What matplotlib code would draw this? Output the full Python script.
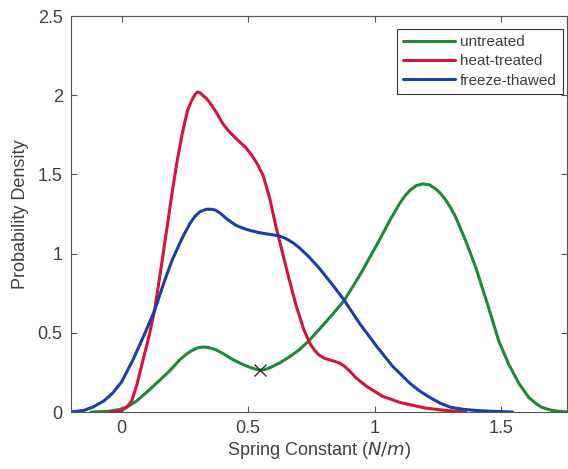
"""
Kernel density estimates of spring constant for three sample treatments.
Saves out.png (568x469).
"""

import matplotlib
matplotlib.use("Agg")
import matplotlib.pyplot as plt

plt.rcParams["font.family"] = ["Liberation Sans", "DejaVu Sans"]

# untreated (green)
untreated_x = [-0.12, -0.08, -0.05, -0.01, 0.02, 0.06, 0.11, 0.15, 0.19, 0.23,
               0.26, 0.28, 0.30, 0.32, 0.34, 0.37, 0.40, 0.44, 0.48, 0.51,
               0.53, 0.545, 0.56, 0.58, 0.60, 0.625, 0.66, 0.70, 0.74, 0.78,
               0.83, 0.88, 0.94, 1.01, 1.06, 1.10, 1.12, 1.14, 1.165, 1.19,
               1.215, 1.24, 1.26, 1.28, 1.30, 1.32, 1.36, 1.40, 1.45, 1.49,
               1.53, 1.57, 1.61, 1.64, 1.66, 1.70, 1.73, 1.76]
untreated_y = [0.0, 0.002, 0.005, 0.015, 0.03, 0.07, 0.14, 0.20, 0.26, 0.33,
               0.37, 0.39, 0.405, 0.41, 0.408, 0.395, 0.37, 0.33, 0.30, 0.28,
               0.27, 0.265, 0.266, 0.275, 0.29, 0.31, 0.345, 0.39, 0.45, 0.52,
               0.61, 0.705, 0.86, 1.06, 1.21, 1.32, 1.365, 1.40, 1.43, 1.44,
               1.435, 1.41, 1.38, 1.34, 1.29, 1.23, 1.08, 0.91, 0.66, 0.45,
               0.30, 0.18, 0.09, 0.05, 0.03, 0.01, 0.004, 0.0]

# heat-treated (red)
heat_x = [-0.05, -0.02, 0.0, 0.02, 0.04, 0.06, 0.085, 0.11, 0.13, 0.155,
          0.18, 0.20, 0.22, 0.24, 0.26, 0.275, 0.29, 0.30, 0.31, 0.32,
          0.335, 0.35, 0.375, 0.40, 0.425, 0.45, 0.47, 0.49, 0.51, 0.535,
          0.56, 0.585, 0.61, 0.635, 0.66, 0.69, 0.72, 0.745, 0.765, 0.78,
          0.80, 0.83, 0.86, 0.88, 0.90, 0.93, 0.97, 1.03, 1.10, 1.20,
          1.28, 1.36]
heat_y = [0.0, 0.003, 0.01, 0.03, 0.07, 0.17, 0.33, 0.49, 0.64, 0.90,
          1.17, 1.39, 1.59, 1.76, 1.90, 1.96, 2.005, 2.02, 2.015, 2.00,
          1.98, 1.95, 1.89, 1.82, 1.77, 1.73, 1.70, 1.67, 1.63, 1.57,
          1.49, 1.35, 1.17, 1.01, 0.85, 0.67, 0.52, 0.43, 0.385, 0.36,
          0.34, 0.325, 0.31, 0.29, 0.26, 0.21, 0.16, 0.10, 0.06, 0.025,
          0.01, 0.0]

# freeze-thawed (blue)
freeze_x = [-0.2, -0.15, -0.115, -0.07, -0.035, 0.0, 0.045, 0.09, 0.13, 0.17,
            0.20, 0.24, 0.27, 0.29, 0.31, 0.335, 0.355, 0.37, 0.39, 0.415,
            0.45, 0.48, 0.51, 0.545, 0.575, 0.60, 0.625, 0.645, 0.66, 0.68,
            0.70, 0.74, 0.78, 0.83, 0.88, 0.94, 1.01, 1.07, 1.14, 1.18,
            1.22, 1.26, 1.30, 1.35, 1.40, 1.47, 1.545]
freeze_y = [0.0, 0.01, 0.03, 0.07, 0.12, 0.19, 0.33, 0.49, 0.64, 0.83,
            0.96, 1.10, 1.19, 1.235, 1.265, 1.28, 1.28, 1.275, 1.255, 1.22,
            1.18, 1.16, 1.145, 1.132, 1.124, 1.118, 1.11, 1.098, 1.085, 1.065,
            1.04, 0.98, 0.91, 0.81, 0.705, 0.56, 0.41, 0.29, 0.18, 0.13,
            0.09, 0.055, 0.03, 0.017, 0.01, 0.004, 0.0]

# marked local minimum of the untreated curve
marker_x = [0.545]
marker_y = [0.265]

GREEN = "#1b8a3a"
RED = "#d4143c"
BLUE = "#1a3fa8"
AXIS_GREY = "#555555"
TEXT_GREY = "#404040"

fig = plt.figure(figsize=(5.68, 4.69), dpi=100)
ax = fig.add_axes([71 / 568, 57 / 469, 496 / 568, 396 / 469])

line_kw = dict(linewidth=2.2, solid_joinstyle="round", solid_capstyle="round")
ax.plot(untreated_x, untreated_y, color=GREEN, label="untreated", **line_kw)
ax.plot(heat_x, heat_y, color=RED, label="heat-treated", **line_kw)
ax.plot(freeze_x, freeze_y, color=BLUE, label="freeze-thawed", **line_kw)
ax.plot(marker_x, marker_y, linestyle="none", marker="x", markersize=8,
        markeredgewidth=1.0, color="#333333")

ax.set_xlim(-0.2, 1.76)
ax.set_ylim(0, 2.5)
ax.set_xticks([0, 0.5, 1, 1.5])
ax.set_xticklabels(["0", "0.5", "1", "1.5"])
ax.set_yticks([0, 0.5, 1, 1.5, 2, 2.5])
ax.set_yticklabels(["0", "0.5", "1", "1.5", "2", "2.5"])

for spine in ax.spines.values():
    spine.set_color(AXIS_GREY)
    spine.set_linewidth(0.8)
ax.tick_params(direction="in", length=4, width=0.8, color=AXIS_GREY,
               labelcolor=TEXT_GREY, labelsize=13, top=True, right=True, pad=6)

ax.set_xlabel("Spring Constant ($\\it{N/m}$)", fontsize=13, color=TEXT_GREY,
              labelpad=2)
ax.set_ylabel("Probability Density", fontsize=13, color=TEXT_GREY, labelpad=6)

leg = ax.legend(loc="upper right", bbox_to_anchor=(563 / 568, 1 - 29 / 469),
                bbox_transform=fig.transFigure, borderaxespad=0, fontsize=11,
                handlelength=3.4, handletextpad=0.35, labelspacing=0.35,
                borderpad=0.4, fancybox=False, framealpha=1)
leg.get_frame().set_edgecolor("#333333")
leg.get_frame().set_linewidth(0.8)
for t in leg.get_texts():
    t.set_color(TEXT_GREY)

fig.savefig("out.png", dpi=100)
